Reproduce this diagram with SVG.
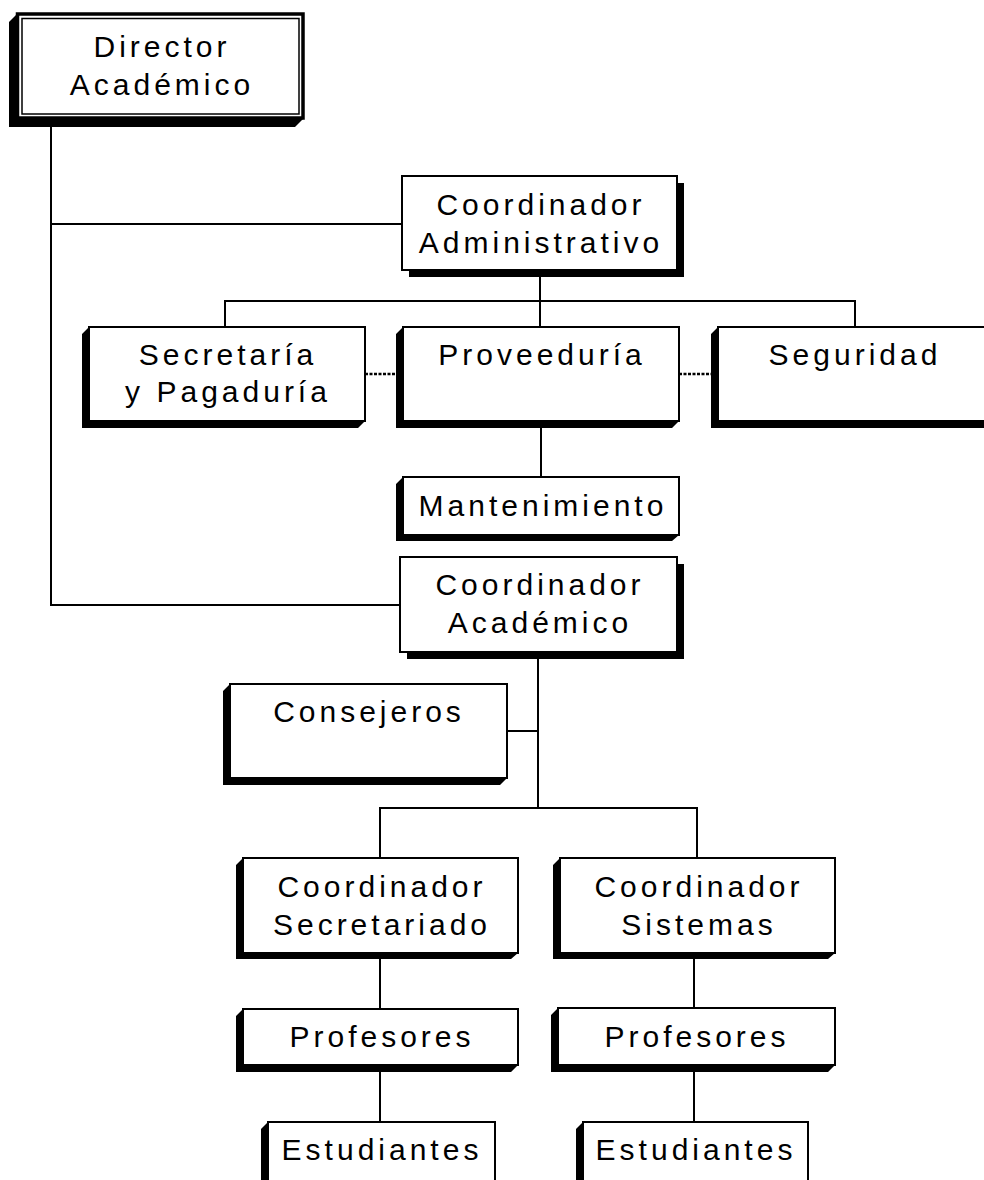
<svg xmlns="http://www.w3.org/2000/svg" width="984" height="1180" viewBox="0 0 984 1180">
<style>
.box{fill:#fff;stroke:#000;stroke-width:2}
.sh{fill:#000}
.t{font-family:"Liberation Sans",Arial,sans-serif;font-size:30px;letter-spacing:4px;text-anchor:middle;fill:#000}
.ln{fill:none;stroke:#000;stroke-width:2}
.dot{fill:none;stroke:#000;stroke-width:2.5;stroke-dasharray:3 1.5}
</style>
<rect width="984" height="1180" fill="#fff"/>
<g id="connectors">
<path class="ln" d="M51,127 V605 H400 M51,224 H402"/>
<path class="ln" d="M540,277 V327 M225,327 V301 H855 V327"/>
<path class="dot" d="M365,374 H403 M679,374 H712"/>
<path class="ln" d="M541,427 V477"/>
<path class="ln" d="M538,659 V808 M507,731 H538 M380,858 V808 H697 V858"/>
<path class="ln" d="M380,958 V1009 M694,958 V1008 M380,1072 V1122 M694,1072 V1122"/>
</g>
<g id="director">
<polygon class="sh" points="17,14 9,22 9,127 295,127 303,119 17,119"/>
<rect x="17.5" y="14" width="285.5" height="104" fill="#fff" stroke="#000" stroke-width="3.5"/>
<rect x="22" y="18.5" width="277" height="95.5" fill="none" stroke="#000" stroke-width="1.5"/>
<text class="t" x="162" y="57">Director</text>
<text class="t" x="162" y="95">Académico</text>
</g>
<g id="coord-adm">
<rect class="sh" x="409" y="183" width="275" height="94"/>
<rect class="box" x="402" y="176" width="275" height="94"/>
<text class="t" x="541" y="215">Coordinador</text>
<text class="t" x="541" y="253">Administrativo</text>
</g>
<g id="secretaria">
<polygon class="sh" points="89,327 82,334 82,428 358,428 365,421 89,421"/>
<rect class="box" x="89" y="327" width="276" height="94"/>
<text class="t" x="228" y="365">Secretaría</text>
<text class="t" x="228" y="402">y Pagaduría</text>
</g>
<g id="proveeduria">
<polygon class="sh" points="403,327 396,334 396,428 672,428 679,421 403,421"/>
<rect class="box" x="403" y="327" width="276" height="94"/>
<text class="t" x="542" y="365">Proveeduría</text>
</g>
<g id="seguridad">
<polygon class="sh" points="718,327 711,334 711,428 990,428 990,421 718,421"/>
<rect class="box" x="718" y="327" width="272" height="94"/>
<text class="t" x="855" y="365">Seguridad</text>
</g>
<g id="mantenimiento">
<polygon class="sh" points="403,477 396,484 396,541 672,541 679,535 403,535"/>
<rect class="box" x="403" y="477" width="276" height="58"/>
<text class="t" x="543" y="516">Mantenimiento</text>
</g>
<g id="coord-acad">
<rect class="sh" x="407" y="564" width="277" height="95"/>
<rect class="box" x="400" y="557" width="277" height="95"/>
<text class="t" x="540" y="595">Coordinador</text>
<text class="t" x="540" y="633">Académico</text>
</g>
<g id="consejeros">
<polygon class="sh" points="230,684 223,691 223,785 500,785 507,778 230,778"/>
<rect class="box" x="230" y="684" width="277" height="94"/>
<text class="t" x="369" y="722">Consejeros</text>
</g>
<g id="coord-secretariado">
<polygon class="sh" points="243,858 236,865 236,959 511,959 518,953 243,953"/>
<rect class="box" x="243" y="858" width="275" height="95"/>
<text class="t" x="382" y="897">Coordinador</text>
<text class="t" x="382" y="935">Secretariado</text>
</g>
<g id="coord-sistemas">
<polygon class="sh" points="560,858 553,865 553,959 828,959 835,953 560,953"/>
<rect class="box" x="560" y="858" width="275" height="95"/>
<text class="t" x="699" y="897">Coordinador</text>
<text class="t" x="699" y="935">Sistemas</text>
</g>
<g id="profesores-1">
<polygon class="sh" points="243,1009 236,1016 236,1072 511,1072 518,1065 243,1065"/>
<rect class="box" x="243" y="1009" width="275" height="56"/>
<text class="t" x="382" y="1047">Profesores</text>
</g>
<g id="profesores-2">
<polygon class="sh" points="558,1008 551,1015 551,1072 828,1072 835,1065 558,1065"/>
<rect class="box" x="558" y="1008" width="277" height="57"/>
<text class="t" x="697" y="1047">Profesores</text>
</g>
<g id="estudiantes-1">
<polygon class="sh" points="268,1122 261,1129 261,1192 268,1192"/>
<rect class="box" x="268" y="1122" width="227" height="66"/>
<text class="t" x="382" y="1160">Estudiantes</text>
</g>
<g id="estudiantes-2">
<polygon class="sh" points="583,1122 576,1129 576,1192 583,1192"/>
<rect class="box" x="583" y="1122" width="225" height="66"/>
<text class="t" x="696" y="1160">Estudiantes</text>
</g>
</svg>
